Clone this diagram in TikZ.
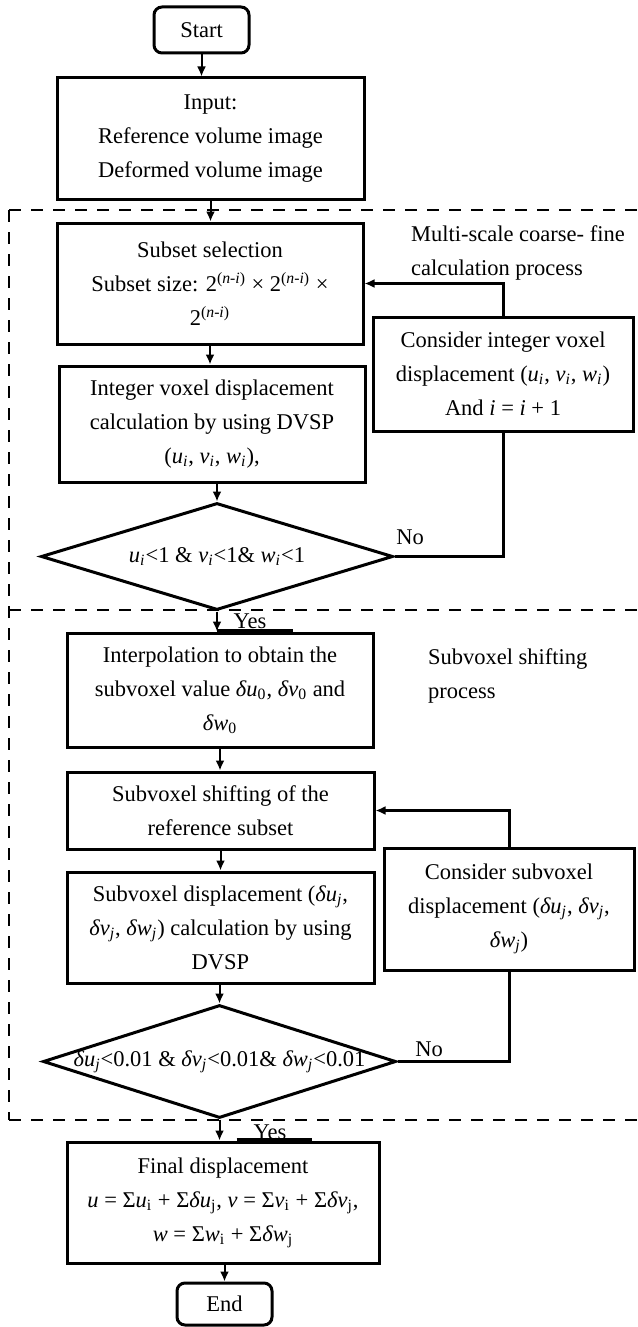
\documentclass[tikz,border=0pt]{standalone}
\usepackage{fontspec}
\setmainfont{Liberation Serif}
\usetikzlibrary{shapes.geometric,arrows.meta}
\tikzset{>={Latex[length=5pt,width=4.5pt]}}
\tikzset{
  sz/.style 2 args={minimum width=#1*0.5pt,minimum height=#2*0.5pt},
  box/.style={draw,line width=1.5pt,align=center,inner sep=0pt},
  term/.style={box,rounded corners=4pt},
  decision/.style={draw,diamond,line width=1.5pt,inner sep=0pt},
  flow/.style={->,line width=1pt},
  back/.style={line width=1.5pt},
  zone/.style={line width=1.4pt,dash pattern=on 6pt off 5pt},
}
\newcommand{\vsub}[2]{\textit{#1}\textsubscript{\textit{#2}}} % italic variable, italic index
\newcommand{\dsub}[2]{\textit{δ#1}\textsubscript{\textit{#2}}} % delta variable

\begin{document}
\begin{tikzpicture}[x=0.5pt,y=-0.5pt,font=\fontsize{11.25}{17}\selectfont]
  \useasboundingbox (0,0) rectangle (637,1327);
  % dashed frames of the two processes
  \draw[zone] (9,210) -- (637,210);
  \draw[zone] (9,610) -- (637,610);
  \draw[zone] (9,1120) -- (637,1120);
  \draw[zone] (9,210) -- (9,1120);
  \node[anchor=west,align=left] (zone1) at (404,253) {Multi-scale coarse- fine\\calculation process};
  \node[anchor=west,align=left] (zone2) at (421,676) {Subvoxel shifting\\process};
  % main column
  \node[term,sz={95}{46}] (start) at (201.5,30) {Start};
  \node[box,sz={307}{121}] (input) at (210.5,138.5) {Input:\\Reference volume image\\Deformed volume image};
  \node[box,sz={306}{121}] (subset) at (210,283.5) {Subset selection\\Subset size: 2\textsuperscript{(\textit{n-i})} × 2\textsuperscript{(\textit{n-i})} ×\\2\textsuperscript{(\textit{n-i})}};
  \node[box,sz={306}{116}] (integer) at (212,424) {Integer voxel displacement\\calculation by using DVSP\\(\vsub{u}{i}, \vsub{v}{i}, \vsub{w}{i}),};
  \node[decision,sz={352}{107},label={center:\vsub{u}{i}<1 \& \vsub{v}{i}<1\& \vsub{w}{i}<1}] (d1) at (217,556.5) {};
  \node[box,sz={260}{114}] (c1) at (503,374) {Consider integer voxel\\displacement (\vsub{u}{i}, \vsub{v}{i}, \vsub{w}{i})\\And \textit{i} = \textit{i} + 1};
  \node[box,sz={306}{114}] (interp) at (220,690) {Interpolation to obtain the\\subvoxel value \textit{δu}\textsubscript{0}, \textit{δv}\textsubscript{0} and\\\textit{δw}\textsubscript{0}};
  \node[box,sz={307}{77}] (shift) at (220.5,810.5) {Subvoxel shifting of the\\reference subset};
  \node[box,sz={307}{111}] (subdisp) at (220.5,927.5) {Subvoxel displacement (\dsub{u}{j},\\\dsub{v}{j}, \dsub{w}{j}) calculation by using\\DVSP};
  \node[decision,sz={353}{113},label={center:\dsub{u}{j}<0.01 \& \dsub{v}{j}<0.01\& \dsub{w}{j}<0.01}] (d2) at (219.5,1061.5) {};
  \node[box,sz={250}{122}] (c2) at (509,909) {Consider subvoxel\\displacement (\dsub{u}{j}, \dsub{v}{j},\\\dsub{w}{j})};
  \node[box,sz={312}{121}] (final) at (223,1202.5) {Final displacement\\\textit{u} = Σ\textit{u}\textsubscript{i} + Σ\textit{δu}\textsubscript{j}, \textit{v} = Σ\textit{v}\textsubscript{i} + Σ\textit{δv}\textsubscript{j},\\\textit{w} = Σ\textit{w}\textsubscript{i} + Σ\textit{δw}\textsubscript{j}};
  \node[term,sz={95}{42}] (end) at (224.5,1304) {End};
  % yes / no labels
  \node (no1) at (410,537) {No};
  \node (no2) at (429,1049) {No};
  \node (yes1) at (250,621) {Yes};
  \node (yes2) at (270,1132) {Yes};
  \draw[line width=2.2pt] (d1.south |- interp.north) -- ++(76,0); % bar under Yes
  \draw[line width=2.2pt] ([xshift=8.5pt]d2.south |- final.north) -- ++(75,0);
  % connectors
  \draw[flow] (start) -- (start |- input.north);
  \draw[flow] (input) -- (input |- subset.north);
  \draw[flow] (subset) -- (subset |- integer.north);
  \draw[flow] (d1.north |- integer.south) -- (d1.north);
  \draw[flow] (d1.south) -- (d1.south |- interp.north);
  \draw[flow] (interp) -- (interp |- shift.north);
  \draw[flow] (shift) -- (shift |- subdisp.north);
  \draw[flow] (d2.north |- subdisp.south) -- (d2.north);
  \draw[flow] (d2.south) -- (d2.south |- final.north);
  \draw[flow] (end.north |- final.south) -- (end.north);
  % feedback loops
  \draw[back] (d1.east) -| (c1.south);
  \draw[back,->] (c1.north) |- (subset.east);
  \draw[back] (d2.east) -| (c2.south);
  \draw[back,->] (c2.north) |- (shift.east);
\end{tikzpicture}
\end{document}
